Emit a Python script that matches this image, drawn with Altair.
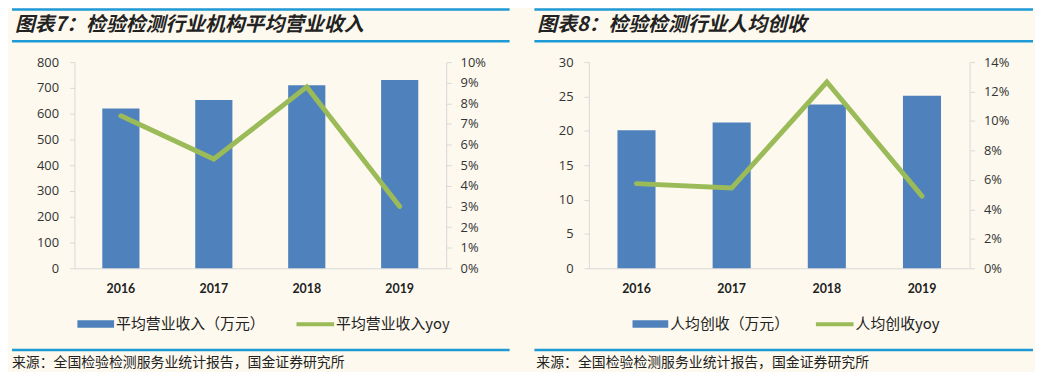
import altair as alt
import pandas as pd

years = ["2016", "2017", "2018", "2019"]

rev_values = [620, 653, 710, 731]
rev_yoy = [0.074, 0.053, 0.088, 0.030]

per_values = [20.1, 21.2, 23.85, 25.1]
per_yoy = [0.0575, 0.0545, 0.1265, 0.049]

left_ticks = [0, 100, 200, 300, 400, 500, 600, 700, 800]
left_pct_ticks = [0, 0.01, 0.02, 0.03, 0.04, 0.05, 0.06, 0.07, 0.08, 0.09, 0.10]
right_ticks = [0, 5, 10, 15, 20, 25, 30]
right_pct_ticks = [0, 0.02, 0.04, 0.06, 0.08, 0.10, 0.12, 0.14]

title_left = "图表7：检验检测行业机构平均营业收入"
title_right = "图表8：检验检测行业人均创收"
bar_name_left = "平均营业收入（万元）"
line_name_left = "平均营业收入yoy"
bar_name_right = "人均创收（万元）"
line_name_right = "人均创收yoy"
source_text = "来源：全国检验检测服务业统计报告，国金证券研究所"

BLUE = "#4F81BD"
GREEN = "#9BBB59"
RULE = "#1E9AD6"
BG = "#FDF9EE"
AXIS = "#D9D9D9"
CJK = "Noto Sans CJK SC"
NUM = "Open Sans"
H = 208


def one(value):
    return alt.Data(values=[{"t": value}])


def panel(vals, yoys, ymax, yticks, pmax, pticks, title, bar_name, line_name,
          W, rule_x0, rule_x1, title_x, src_x, leg):
    df = pd.DataFrame({"year": years, "v": vals, "yoy": yoys})
    base = alt.Chart(df)
    xenc = alt.X(
        "year:N",
        sort=years,
        scale=alt.Scale(paddingInner=0.6, paddingOuter=0.3),
        axis=alt.Axis(title=None, labelAngle=0, ticks=False, domainColor=AXIS,
                      labelFont="Lato", labelFontSize=12.5,
                      labelFontWeight="bold", labelColor="#222", labelPadding=14),
    )
    bars = base.mark_bar(color=BLUE).encode(
        x=xenc,
        y=alt.Y("v:Q", scale=alt.Scale(domain=[0, ymax], nice=False),
                axis=alt.Axis(title=None, values=yticks, grid=False, tickSize=5,
                              tickColor=AXIS, domainColor=AXIS, labelFont=NUM,
                              labelFontSize=13, labelColor="#333", labelPadding=11)),
    )
    line = base.mark_line(color=GREEN, strokeWidth=5, strokeCap="round",
                          strokeJoin="miter").encode(
        x=alt.X("year:N", sort=years),
        y=alt.Y("yoy:Q", scale=alt.Scale(domain=[0, pmax], nice=False),
                axis=alt.Axis(title=None, orient="right", values=pticks, format=".0%",
                              grid=False, tickSize=5, tickColor=AXIS, domainColor=AXIS,
                              labelFont=NUM, labelFontSize=13, labelColor="#333",
                              labelPadding=9)),
    )
    top_rule = alt.Chart(one(0)).mark_rule(color=RULE, strokeWidth=2.5).encode(
        x=alt.value(rule_x0), x2=alt.value(rule_x1), y=alt.value(-53))
    mid_rule = alt.Chart(one(0)).mark_rule(color=RULE, strokeWidth=2.5).encode(
        x=alt.value(rule_x0), x2=alt.value(rule_x1), y=alt.value(-21))
    bot_rule = alt.Chart(one(0)).mark_rule(color=RULE, strokeWidth=2.5).encode(
        x=alt.value(rule_x0), x2=alt.value(rule_x1), y=alt.value(290.5))
    title_t = alt.Chart(one(title)).mark_text(
        align="left", baseline="middle", font=CJK, fontSize=20, fontWeight="bold",
        fontStyle="italic", color="#222").encode(
        text="t:N", x=alt.value(title_x), y=alt.value(-37))
    src_t = alt.Chart(one(source_text)).mark_text(
        align="left", baseline="middle", font=CJK, fontSize=14, color="#222").encode(
        text="t:N", x=alt.value(src_x), y=alt.value(304))
    bx0, bx1, tx0, gx0, gx1, tx1 = leg
    leg_bar = alt.Chart(one(0)).mark_rect(color=BLUE).encode(
        x=alt.value(bx0), x2=alt.value(bx1), y=alt.value(260.5), y2=alt.value(268))
    leg_bar_t = alt.Chart(one(bar_name)).mark_text(
        align="left", baseline="middle", font=CJK, fontSize=15, color="#222").encode(
        text="t:N", x=alt.value(tx0), y=alt.value(264))
    leg_line = alt.Chart(one(0)).mark_rule(color=GREEN, strokeWidth=4).encode(
        x=alt.value(gx0), x2=alt.value(gx1), y=alt.value(264.5))
    leg_line_t = alt.Chart(one(line_name)).mark_text(
        align="left", baseline="middle", font=CJK, fontSize=15, color="#222").encode(
        text="t:N", x=alt.value(tx1), y=alt.value(264))
    return alt.layer(
        bars, line, top_rule, mid_rule, bot_rule, title_t, src_t,
        leg_bar, leg_bar_t, leg_line, leg_line_t
    ).resolve_scale(y="independent").properties(width=W, height=H)


left = panel(rev_values, rev_yoy, 800, left_ticks, 0.10, left_pct_ticks,
             title_left, bar_name_left, line_name_left, 375,
             -63, 439, -60, -63, (3, 40, 42, 224, 262, 264))
right = panel(per_values, per_yoy, 30, right_ticks, 0.14, right_pct_ticks,
              title_right, bar_name_right, line_name_right, 384,
              -55, 448, -52, -53, (44, 80, 82, 229, 267, 269))

chart = alt.hconcat(left, right, spacing=21).properties(
    background=BG, padding={"left": 2, "top": -2, "right": 0, "bottom": 0}
).configure_view(stroke=None)

chart.save("out.html", embed_options={"renderer": "svg", "actions": False})
